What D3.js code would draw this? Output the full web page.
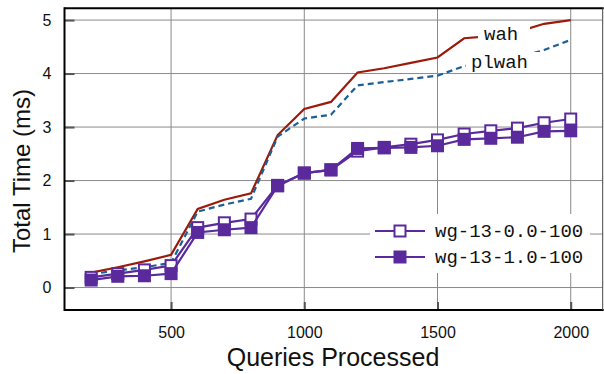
<!DOCTYPE html>
<html><head><meta charset="utf-8">
<script src="https://cdn.jsdelivr.net/npm/d3@7"></script>
<style>body{margin:0;background:#fff}svg{display:block}</style>
</head><body><svg id="c" width="604" height="374"></svg>
<script>
const queries = [200,300,400,500,600,700,800,900,1000,1100,1200,1300,1400,1500,1600,1700,1800,1900,2000];
const wah   = [0.28,0.38,0.49,0.61,1.47,1.64,1.76,2.85,3.34,3.47,4.02,4.10,4.20,4.30,4.66,4.70,4.78,4.93,5.00];
const plwah = [0.25,0.32,0.38,0.46,1.42,1.55,1.66,2.82,3.16,3.23,3.78,3.84,3.90,3.96,4.14,4.20,4.30,4.44,4.63];
const wg00  = [0.19,0.26,0.33,0.41,1.12,1.21,1.28,1.91,2.14,2.20,2.55,2.62,2.68,2.76,2.87,2.93,2.98,3.08,3.15];
const wg10  = [0.14,0.21,0.22,0.26,1.03,1.08,1.12,1.90,2.14,2.20,2.60,2.61,2.62,2.65,2.77,2.79,2.81,2.92,2.93];
const xTicks = [500,1000,1500,2000];
const yTicks = [0,1,2,3,4,5];
const legendLabels = ["wg-13-0.0-100","wg-13-1.0-100"];
const lineLabels = ["wah","plwah"];

const svg = d3.select("#c");
const L=64.5, R=602.7, T=8.3, B=310;
const x = d3.scaleLinear().domain([100,2120]).range([L,R]);
const y = d3.scaleLinear().domain([-0.42,5.22]).range([B,T]);
const purple="#5a2a9c", red="#9c1a0c", blue="#1b5f97";
const mono="'Liberation Mono','Courier New',monospace";
const sans="'Liberation Sans',Arial,Helvetica,sans-serif";

// grid
const g = svg.append("g");
g.selectAll(".gx").data(xTicks).join("line").attr("x1",d=>x(d)).attr("x2",d=>x(d)).attr("y1",T).attr("y2",B).attr("stroke","#8a8a8a").attr("stroke-width",1);
g.selectAll(".gy").data(yTicks).join("line").attr("y1",d=>y(d)).attr("y2",d=>y(d)).attr("x1",L).attr("x2",R).attr("stroke","#8a8a8a").attr("stroke-width",1);

// axes
const ax = svg.append("g").attr("transform",`translate(0,${B})`).call(d3.axisBottom(x).tickValues(xTicks).tickFormat(d3.format("d")).tickSize(-8).tickPadding(17));
ax.select(".domain").remove();
ax.selectAll(".tick line").attr("stroke","#555").attr("stroke-width",2);
ax.selectAll(".tick text").attr("font-family",sans).attr("font-size",16).attr("fill","#111");
const ay = svg.append("g").attr("transform",`translate(${L},0)`).call(d3.axisLeft(y).tickValues(yTicks).tickFormat(d3.format("d")).tickSize(-10).tickPadding(13));
ay.select(".domain").remove();
ay.selectAll(".tick line").attr("stroke","#555").attr("stroke-width",2);
ay.selectAll(".tick text").attr("font-family",sans).attr("font-size",16).attr("fill","#111");

// frame
svg.append("line").attr("x1",L).attr("x2",R+1).attr("y1",T).attr("y2",T).attr("stroke","#000").attr("stroke-width",2);
svg.append("line").attr("x1",L).attr("x2",R+1).attr("y1",B).attr("y2",B).attr("stroke","#000").attr("stroke-width",2);
svg.append("line").attr("x1",L).attr("x2",L).attr("y1",T-1).attr("y2",B+1).attr("stroke","#000").attr("stroke-width",2);
svg.append("line").attr("x1",R).attr("x2",R).attr("y1",T).attr("y2",B).attr("stroke","#444").attr("stroke-width",1);

// lines
const line = d3.line().x((d,i)=>x(queries[i])).y(d=>y(d));
svg.append("path").attr("d",line(wah)).attr("fill","none").attr("stroke",red).attr("stroke-width",2.2);
svg.append("path").attr("d",line(plwah)).attr("fill","none").attr("stroke",blue).attr("stroke-width",2.2).attr("stroke-dasharray","6,4");

function series(vals, filled){
  svg.append("path").attr("d",line(vals)).attr("fill","none").attr("stroke",purple).attr("stroke-width",2.2);
  svg.selectAll(null).data(vals).join("rect")
    .attr("x",(d,i)=>x(queries[i])-5.5).attr("y",d=>y(d)-5.5).attr("width",11).attr("height",11)
    .attr("fill",filled?purple:"#fff").attr("stroke",purple).attr("stroke-width",2);
}
series(wg00,false);
series(wg10,true);

// inline labels
const lab=[{t:lineLabels[0],bx:478,by:21,bw:52,bh:27,tx:484,ty:40},{t:lineLabels[1],bx:466,by:52,bw:74,bh:21,tx:471,ty:68}];
lab.forEach(o=>{
  svg.append("rect").attr("x",o.bx).attr("y",o.by).attr("width",o.bw).attr("height",o.bh).attr("fill","#fff");
  svg.append("text").attr("x",o.tx).attr("y",o.ty).text(o.t).attr("font-family",mono).attr("font-size",19).attr("fill","#111");
});

// legend
svg.append("rect").attr("x",370).attr("y",214).attr("width",220).attr("height",59).attr("fill","#fff");
legendLabels.forEach((t,i)=>{
  const yy=231+i*26;
  svg.append("line").attr("x1",375).attr("x2",425).attr("y1",yy).attr("y2",yy).attr("stroke",purple).attr("stroke-width",2.2);
  svg.append("rect").attr("x",394.5).attr("y",yy-5.5).attr("width",11).attr("height",11).attr("fill",i?purple:"#fff").attr("stroke",purple).attr("stroke-width",2);
  svg.append("text").attr("x",435).attr("y",yy+6).text(t).attr("font-family",mono).attr("font-size",19).attr("fill","#111");
});

// titles
svg.append("text").attr("x",333).attr("y",366).attr("text-anchor","middle").text("Queries Processed").attr("font-family",sans).attr("font-size",25).attr("fill","#111");
svg.append("text").attr("transform","translate(30,171) rotate(-90)").attr("text-anchor","middle").text("Total Time (ms)").attr("font-family",sans).attr("font-size",24).attr("fill","#111");
</script></body></html>
